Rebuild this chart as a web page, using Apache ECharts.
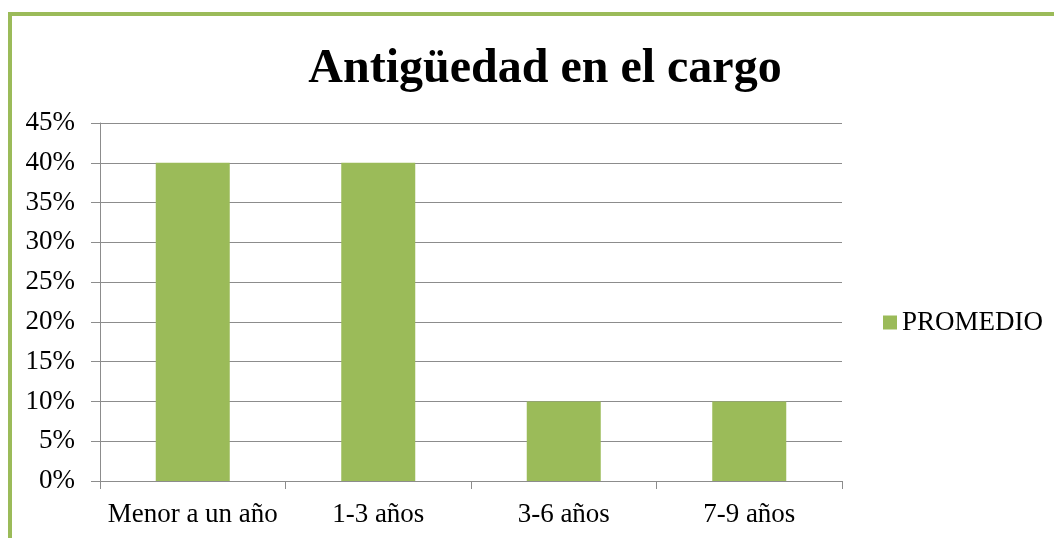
<!DOCTYPE html>
<html>
<head>
<meta charset="utf-8">
<script src="https://cdn.jsdelivr.net/npm/echarts@6/dist/echarts.min.js"></script>
<style>
  html, body { margin: 0; padding: 0; background: #fff; }
  #chart { width: 1054px; height: 538px; }
</style>
</head>
<body>
<div id="chart"></div>
<script>
// datos del grafico
const categorias = ['Menor a un año', '1-3 años', '3-6 años', '7-9 años'];
const promedio = [40, 40, 10, 10];
const nombreSerie = 'PROMEDIO';
const titulo = 'Antigüedad en el cargo';

const verde = '#9BBB59';
const gris = '#8c8c8c';
const fuente = '"Liberation Serif", "Times New Roman", serif';

const chart = echarts.init(document.getElementById('chart'));
chart.setOption({
  animation: false,
  backgroundColor: '#fff',
  title: {
    text: titulo,
    left: 540,
    textAlign: 'center',
    top: 41,
    textStyle: { fontFamily: fuente, fontSize: 48, fontWeight: 'bold', color: '#000' }
  },
  legend: {
    data: [nombreSerie],
    orient: 'vertical',
    left: 883,
    top: 309,
    padding: 0,
    icon: 'rect',
    itemWidth: 14,
    itemHeight: 14,
    itemGap: 4,
    textStyle: { fontFamily: fuente, fontSize: 27, color: '#000' }
  },
  grid: { left: 100, right: 212, top: 123, bottom: 57 },
  xAxis: {
    type: 'category',
    data: categorias,
    axisLine: { lineStyle: { color: gris, width: 1 } },
    axisTick: { show: true, interval: 0, length: 8, lineStyle: { color: gris } },
    axisLabel: { interval: 0, fontFamily: fuente, fontSize: 27, color: '#000', margin: 20 },
    splitLine: { show: false }
  },
  yAxis: {
    type: 'value',
    min: 0,
    max: 45,
    interval: 5,
    axisLine: { show: true, lineStyle: { color: gris, width: 1 } },
    axisTick: { show: true, length: 9, lineStyle: { color: gris } },
    axisLabel: {
      fontFamily: fuente, fontSize: 27, color: '#000', margin: 25,
      formatter: v => v + '%'
    },
    splitLine: { show: true, lineStyle: { color: gris, width: 1 } }
  },
  series: [{
    name: nombreSerie,
    type: 'bar',
    data: promedio,
    barWidth: 74,
    itemStyle: { color: verde }
  }],
  graphic: [
    { type: 'rect', shape: { x: 8, y: 12, width: 1046, height: 4 }, style: { fill: verde }, silent: true },
    { type: 'rect', shape: { x: 8, y: 12, width: 4, height: 526 }, style: { fill: verde }, silent: true }
  ]
});
</script>
</body>
</html>
